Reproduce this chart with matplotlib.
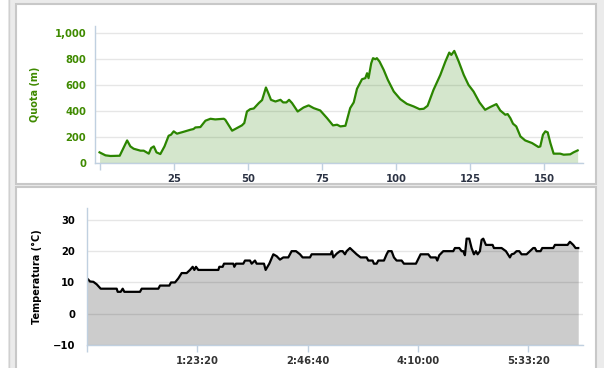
#! /usr/bin/env python3

import matplotlib
matplotlib.use('Agg')
import matplotlib.pyplot as plt
from matplotlib.patches import Rectangle
from matplotlib.lines import Line2D
import matplotlib.ticker as mticker

# elevation profile (x = index / km, y = metres)
dist = [0, 2, 3.7, 6.8, 9.3, 10.4, 11.5, 13.8, 14.9, 16.6, 17.4, 18.3, 19.2,
        20.5, 21.9, 23.3, 24.1, 25, 26.1, 28.4, 30.6, 31.7, 32.3, 34, 35.7,
        37.4, 39, 41.9, 42.4, 44.7, 46.3, 48, 48.8, 49.7, 50.8, 52, 53.7,
        54.8, 56.1, 57, 57.8, 59.3, 61, 61.9, 63, 63.9, 64.9, 66.8, 68.8,
        70.5, 72.2, 74.4, 76.7, 78.7, 80.1, 81.2, 82.9, 84.5, 85.7, 86.8,
        88.5, 89.6, 90.2, 90.7, 91.6, 92.2, 93, 93.5, 94.4, 95.8, 97.2, 99.2,
        101.4, 103.6, 105.9, 107.9, 109.3, 110.6, 112.6, 114.9, 116.6, 117.9,
        118.6, 119.6, 121.1, 122.8, 124.4, 126.1, 128.1, 130, 131.7, 133.8,
        135.1, 136.8, 137.6, 138.5, 139.4, 140.5, 141.9, 143.5, 145.8, 148,
        148.6, 149.5, 150.3, 151.1, 152, 153.1, 155.3, 156.5, 158.7, 159.8,
        161.2]
quota = [82, 59, 54, 56, 174, 128, 110, 95, 95, 72, 115, 128, 82,
         69, 128, 210, 218, 244, 226, 241, 256, 262, 274, 277, 326,
         341, 336, 341, 333, 249, 269, 290, 308, 397, 415, 420, 462,
         485, 582, 533, 487, 474, 487, 467, 467, 487, 462, 397, 428,
         444, 423, 405, 346, 290, 295, 282, 287, 423, 467, 572,
         646, 654, 692, 654, 769, 808, 800, 808, 782, 718, 641, 551,
         492, 456, 436, 415, 418, 441, 564, 679, 782, 851,
         833, 864, 782, 679, 602, 551, 467, 410, 431, 454,
         405, 372, 377, 346, 303, 282, 205, 174, 154, 123,
         128, 218, 244, 236, 154, 72, 72, 64, 67, 82,
         97]
dist_ticks = [0, 25, 50, 75, 100, 125, 150]
dist_labels = ['', '25', '50', '75', '100', '125', '150']
quota_ticks = [0, 200, 400, 600, 800, 1000]

# temperature over elapsed time (seconds, degrees C)
t_sec = [30, 151, 302, 453, 634, 1358, 1403, 1539, 1630, 1705, 2414, 2490,
         3244, 3320, 3742, 3818, 3999, 4150, 4301, 4527, 4678, 4799, 4874,
         4950, 5055, 5961, 6006, 6157, 6217, 6640, 6685, 6760, 7092, 7168,
         7394, 7470, 7620, 7696, 8028, 8103, 8269, 8450, 8601, 8752, 8903,
         9129, 9280, 9477, 9658, 9778, 10110, 10186, 11046, 11106, 11167,
         11318, 11468, 11589, 11695, 11770, 11921, 12072, 12223, 12404,
         12676, 12751, 12947, 13008, 13128, 13204, 13460, 13581, 13657,
         13808, 13913, 14034, 14260, 14366, 14909, 15120, 15467, 15573,
         15814, 15875, 15965, 16146, 16599, 16674, 16871, 16976, 17052,
         17127, 17203, 17323, 17429, 17535, 17625, 17701, 17806, 17882,
         17957, 18078, 18380, 18440, 18787, 18983, 19164, 19240, 19345,
         19466, 19587, 19692, 19919, 20070, 20221, 20296, 20372, 20553,
         20628, 21126, 21202, 21775, 21881, 22032, 22137, 22258]
temp = [11.2, 10.3, 10.2, 9.4, 8, 8, 7, 7, 8, 7, 7, 8,
        8, 9, 9, 10, 10, 11.3, 13, 13, 14, 15, 14,
        15, 14, 14, 15, 15, 16, 16, 15, 16, 16, 17,
        17, 16, 17, 16, 16, 14, 16, 19, 18.4, 17.3, 18,
        18, 20, 20, 19, 18, 18, 19, 19, 20, 18,
        19.2, 20, 20, 19, 20, 21, 20, 19, 18,
        18, 17, 17, 16, 16, 17, 17, 19, 20,
        20, 18, 17, 17, 16, 16, 19, 19, 18,
        18, 17, 18.7, 20, 20, 21, 21, 20, 20,
        18.7, 24, 24, 21, 19, 20, 19, 20, 23.6,
        24, 22, 22, 21, 21, 20, 18, 19, 19.2,
        20, 20, 19, 19, 20, 21, 21, 20, 20,
        21, 21, 22, 22, 23, 22, 21, 21]
time_ticks = [0, 5000, 10000, 15000, 20000]
time_labels = ['', '1:23:20', '2:46:40', '4:10:00', '5:33:20']
temp_ticks = [-10, 0, 10, 20, 30]

W, H = 604, 368


def fx(px):
    return px / W


def fy(py):
    return 1 - py / H


def style_axis(ax, tick_color, label_color, ypad):
    for s in ['top', 'right']:
        ax.spines[s].set_visible(False)
    for s in ['left', 'bottom']:
        ax.spines[s].set_color('#c0d0e0')
        ax.spines[s].set_linewidth(1)
    ax.grid(axis='y', color='#e6e6e6', linewidth=1)
    ax.set_axisbelow(True)
    ax.tick_params(axis='y', length=0, pad=ypad, labelsize=7.2,
                   labelcolor=label_color)
    ax.tick_params(axis='x', length=5, width=1, color='#c0d0e0', pad=3,
                   labelsize=7.2, labelcolor=tick_color)
    for lab in ax.get_xticklabels() + ax.get_yticklabels():
        lab.set_fontweight('bold')


def mkplot():
    fig = plt.figure(figsize=(W / 100, H / 100), dpi=100)
    fig.patch.set_facecolor('#ebebeb')

    # frame: white strip on the far left, panels (behind the axes)
    fig.patches.append(Rectangle((0, 0), fx(8), 1, transform=fig.transFigure,
                                 facecolor='white', edgecolor='none', zorder=-5))
    fig.lines.append(Line2D([fx(8.5), fx(8.5)], [0, 1], transform=fig.transFigure,
                            color='#d0d0d0', linewidth=1, zorder=-5))
    fig.patches.append(Rectangle((fx(16), fy(184)), fx(596) - fx(16), fy(4) - fy(184),
                                 transform=fig.transFigure, facecolor='white',
                                 edgecolor='#c8c8c8', linewidth=1.5, zorder=-5))
    fig.patches.append(Rectangle((fx(16), fy(372)), fx(596) - fx(16), fy(187) - fy(372),
                                 transform=fig.transFigure, facecolor='white',
                                 edgecolor='#c8c8c8', linewidth=1.5, zorder=-5))

    # elevation
    ax1 = fig.add_axes([fx(94.5), fy(163), fx(583) - fx(94.5), fy(26) - fy(163)])
    ax1.set_facecolor('none')
    ax1.fill_between(dist, quota, 0, color='#2b8500', alpha=0.2, linewidth=0)
    ax1.plot(dist, quota, color='#2b8500', linewidth=1.6, solid_joinstyle='round')
    ax1.set_xlim(-1.7, 163)
    ax1.set_ylim(0, 1056)
    ax1.set_xticks(dist_ticks)
    ax1.set_xticklabels(dist_labels)
    ax1.set_yticks(quota_ticks)
    ax1.yaxis.set_major_formatter(mticker.FuncFormatter(lambda v, p: '{:,.0f}'.format(v)))
    style_axis(ax1, '#2c3344', '#3f8a00', 6)
    ax1.set_ylabel('Quota (m)', color='#3f8a00', fontsize=7, fontweight='bold')
    ax1.yaxis.set_label_coords((40 - 94.5) / (583 - 94.5), 0.5)

    # temperature
    ax2 = fig.add_axes([fx(86.7), fy(345), fx(582.7) - fx(86.7), fy(208) - fy(345)])
    ax2.set_facecolor('none')
    ax2.fill_between(t_sec, temp, -10, color='black', alpha=0.2, linewidth=0)
    ax2.plot(t_sec, temp, color='black', linewidth=1.6, solid_joinstyle='round')
    ax2.set_xlim(0, 22460)
    ax2.set_ylim(-10, 33.8)
    ax2.set_xticks(time_ticks)
    ax2.set_xticklabels(time_labels)
    ax2.set_yticks(temp_ticks)
    ax2.set_yticklabels([str(v).replace('-', '\u2212') for v in temp_ticks])
    style_axis(ax2, '#333333', 'black', 8.5)
    ax2.set_ylabel('Temperatura (°C)', color='black', fontsize=7, fontweight='bold')
    ax2.yaxis.set_label_coords((42 - 86.7) / (582.7 - 86.7), 0.5)

    plt.savefig('out.png', dpi=100, facecolor=fig.get_facecolor())


if __name__ == "__main__":
    mkplot()
